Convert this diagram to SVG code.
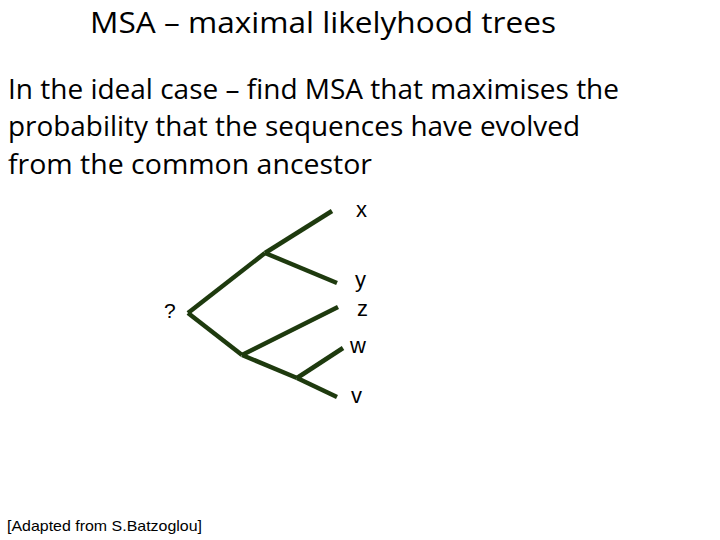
<svg xmlns="http://www.w3.org/2000/svg" width="720" height="540" viewBox="0 0 720 540">
<style>
.t{font-family:"Open Sans","Liberation Sans",sans-serif;fill:#000}
.a{font-family:"Liberation Sans",Arial,sans-serif;fill:#000}
.e{stroke:#1e3a0e;stroke-width:4.5;stroke-linecap:butt;fill:none}
</style>
<rect width="720" height="540" fill="#fff"/>
<text id="title" class="t" x="90" y="33" font-size="30" textLength="466" lengthAdjust="spacingAndGlyphs">MSA – maximal likelyhood trees</text>
<g id="body">
<text class="t" x="8" y="99" font-size="27" textLength="611" lengthAdjust="spacingAndGlyphs">In the ideal case – find MSA that maximises the</text>
<text class="t" x="8" y="136" font-size="27" textLength="572" lengthAdjust="spacingAndGlyphs">probability that the sequences have evolved</text>
<text class="t" x="8" y="174" font-size="27" textLength="364" lengthAdjust="spacingAndGlyphs">from the common ancestor</text>
</g>
<g id="connectors">
<line class="e" x1="188" y1="313" x2="265" y2="253"/>
<line class="e" x1="265" y1="253" x2="332" y2="211"/>
<line class="e" x1="265" y1="253" x2="337" y2="283"/>
<line class="e" x1="188" y1="313" x2="242" y2="355"/>
<line class="e" x1="242" y1="355" x2="338" y2="307"/>
<line class="e" x1="242" y1="355" x2="297" y2="378"/>
<line class="e" x1="297" y1="378" x2="343" y2="348"/>
<line class="e" x1="297" y1="378" x2="337" y2="397"/>
</g>
<g id="root"><text class="a" x="164" y="318" font-size="21">?</text></g>
<g id="x"><text class="a" x="356" y="217" font-size="22">x</text></g>
<g id="y"><text class="a" x="355" y="287" font-size="22">y</text></g>
<g id="z"><text class="a" x="357" y="316" font-size="22">z</text></g>
<g id="w"><text class="a" x="350" y="353" font-size="22">w</text></g>
<g id="v"><text class="a" x="351" y="403" font-size="22">v</text></g>
<text id="credit" class="a" x="7" y="531" font-size="15" textLength="195" lengthAdjust="spacingAndGlyphs">[Adapted from S.Batzoglou]</text>
</svg>
